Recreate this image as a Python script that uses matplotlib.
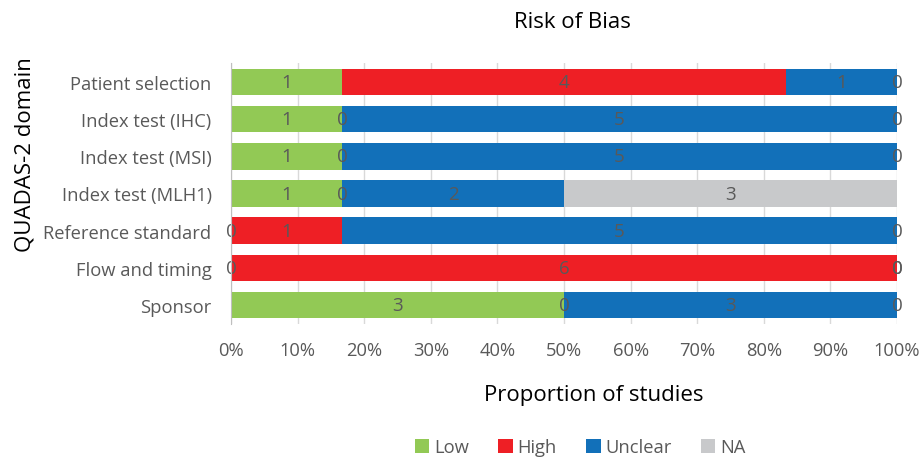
import matplotlib
matplotlib.use("Agg")
import matplotlib.pyplot as plt
import numpy as np

plt.rcParams['font.family'] = ['Open Sans', 'DejaVu Sans']

categories = ["Patient selection", "Index test (IHC)", "Index test (MSI)",
              "Index test (MLH1)", "Reference standard", "Flow and timing", "Sponsor"]
series_names = ["Low", "High", "Unclear", "NA"]
low = [1, 1, 1, 1, 0, 0, 3]
high = [4, 0, 0, 0, 1, 6, 0]
unclear = [1, 5, 5, 2, 5, 0, 3]
na = [0, 0, 0, 3, 0, 0, 0]
colors = ["#92C955", "#EE1F25", "#1270B9", "#C8C9CB"]
xticklabels = ["0%", "10%", "20%", "30%", "40%", "50%", "60%", "70%", "80%", "90%", "100%"]

data = np.array([low, high, unclear, na], dtype=float)
totals = data.sum(axis=0)
props = data / totals

fig = plt.figure(figsize=(9.21, 4.6), dpi=100)
ax = fig.add_axes([231/921, 1 - 324.6/460, (897-231)/921, (324.6-64.4)/460])

y = np.arange(len(categories))
left = np.zeros(len(categories))
label_color = "#595959"
for i, name in enumerate(series_names):
    ax.barh(y, props[i], left=left, height=0.71, color=colors[i], label=name, zorder=2)
    for j in range(len(categories)):
        cx = left[j] + props[i][j] / 2
        ax.text(cx, y[j], f"{int(data[i][j])}", ha="center", va="center",
                fontsize=13.5, color=label_color, zorder=3)
    left = left + props[i]

ax.set_ylim(len(categories) - 0.5, -0.5)
ax.set_xlim(0, 1)
ax.set_yticks(y)
ax.set_yticklabels(categories, fontsize=13.2, color=label_color)
ax.set_xticks(np.linspace(0, 1, 11))
ax.set_xticklabels(xticklabels, fontsize=13.2, color=label_color)
ax.tick_params(axis='both', length=0)
ax.tick_params(axis='x', pad=12.5)
ax.tick_params(axis='y', pad=14)
ax.grid(axis='x', color="#D9D9D9", linewidth=1, zorder=0)
for s in ["top", "right", "bottom"]:
    ax.spines[s].set_visible(False)
ax.spines["left"].set_color("#BFBFBF")
ax.spines["left"].set_zorder(4)

fig.text(572/921, 1 - 22/460, "Risk of Bias", ha="center", va="center", fontsize=16, color="#000000")
fig.text(594/921, 1 - 396/460, "Proportion of studies", ha="center", va="center", fontsize=16, color="#000000")
fig.text(25/921, 1 - 155/460, "QUADAS-2 domain", ha="center", va="center", rotation=90, fontsize=16, color="#000000")

handles, labels = ax.get_legend_handles_labels()
leg = fig.legend(handles, labels, loc="center", bbox_to_anchor=(580/921, 1 - 448/460), ncol=4,
                 frameon=False, fontsize=13.2, handlelength=0.8, handleheight=0.8,
                 handletextpad=0.25, columnspacing=1.6, labelcolor=label_color,
                 borderpad=0.2)

fig.savefig("out.png", dpi=100)
